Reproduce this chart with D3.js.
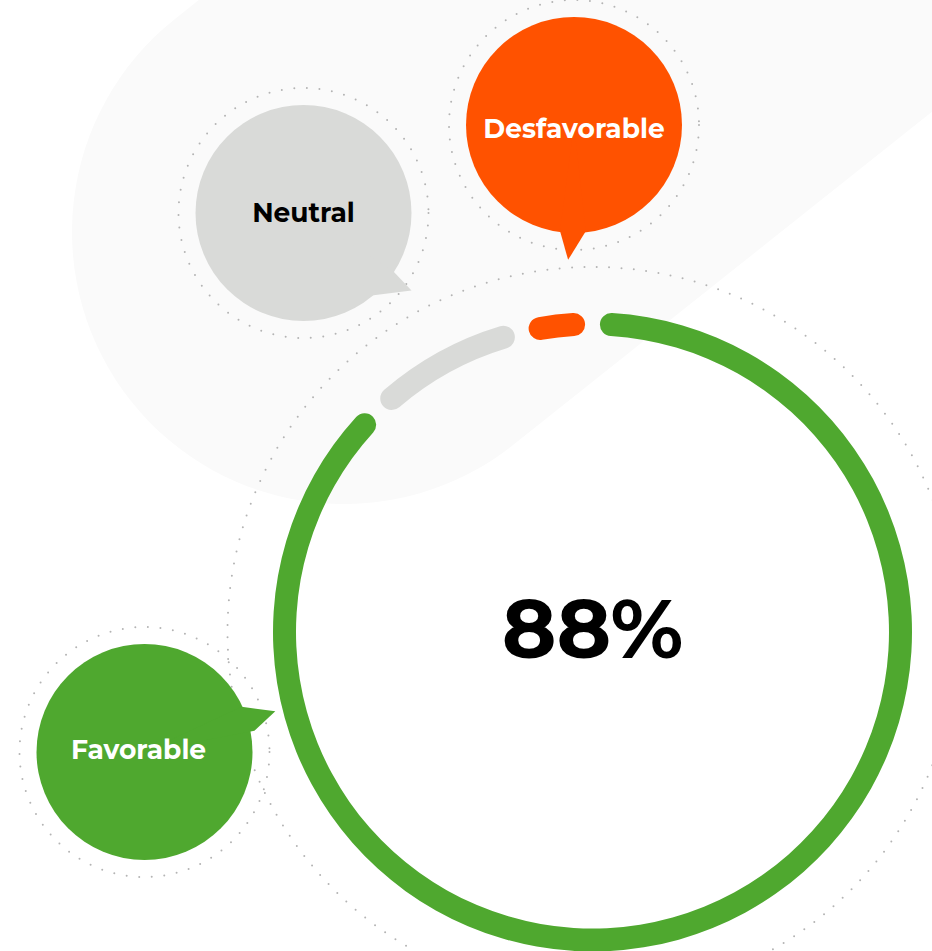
<!DOCTYPE html>
<meta charset="utf-8">
<style>
body { margin: 0; background: #fff; }
svg { display: block; }
text { font-family: "Montserrat", "Inter", sans-serif; font-weight: 700; }
.dots circle { fill: none; stroke: #b4b4b4; stroke-width: 2; stroke-linecap: round; }
</style>
<svg width="932" height="951"></svg>
<script src="https://d3js.org/d3.v7.min.js"></script>
<script>

// data
var categories = ["Favorable", "Neutral", "Desfavorable"];
var values = [89, 8, 3];
var colors = ["#4fa82f", "#d9dad8", "#ff5200"];
var labelColors = ["#ffffff", "#000000", "#ffffff"];
var centerLabel = "88%";

var svg = d3.select("svg"),
    width = +svg.attr("width"),
    height = +svg.attr("height");

// ring geometry
var cx = 592.5, cy = 632, rOuter = 319.5, rInner = 296.5;

// faint background band
svg.append("line")
    .attr("x1", 344).attr("y1", 232)
    .attr("x2", 344 + 0.783 * 1100).attr("y2", 232 - 0.623 * 1100)
    .attr("stroke", "#fafafa")
    .attr("stroke-width", 544)
    .attr("stroke-linecap", "round");

// bubble layout: centre, tail (angle in deg, distance) for base1, tip, base2, label offset
var bubbles = [
  {cx: 144.5, cy: 752, tail: [[-25, 107], [-17.3, 137], [-11, 112]], dx: -6, dy: 7},
  {cx: 303.5, cy: 213, tail: [[33, 107], [35.7, 133], [50.4, 107]], dx: 0, dy: 9},
  {cx: 574, cy: 125, tail: [[97.5, 107], [92.5, 135], [83.7, 107]], dx: 0, dy: 13}
];
var bubbleR = 108, dotR = 125;

var dots = svg.append("g").attr("class", "dots");
dots.append("circle").attr("cx", cx).attr("cy", cy).attr("r", 365)
    .attr("stroke-dasharray", "0 12.4");
bubbles.forEach(function(b) {
  dots.append("circle").attr("cx", b.cx).attr("cy", b.cy).attr("r", dotR)
      .attr("stroke-dasharray", "0 12.6");
});

// speech bubbles
var bub = svg.append("g").selectAll("g")
    .data(bubbles)
    .enter().append("g")
      .attr("transform", function(d) { return "translate(" + d.cx + "," + d.cy + ")"; });

bub.append("circle")
    .attr("r", bubbleR)
    .attr("fill", function(d, i) { return colors[i]; });

bub.append("path")
    .attr("fill", function(d, i) { return colors[i]; })
    .attr("d", function(d) {
      var pts = d.tail.map(function(p) {
        var a = p[0] * Math.PI / 180;
        return [p[1] * Math.cos(a), p[1] * Math.sin(a)];
      });
      return "M" + [[0, 0]].concat(pts).join("L") + "Z";
    });

bub.append("text")
    .attr("x", function(d) { return d.dx; })
    .attr("y", function(d) { return d.dy; })
    .attr("text-anchor", "middle")
    .attr("font-size", 26.5)
    .attr("fill", function(d, i) { return labelColors[i]; })
    .text(function(d, i) { return categories[i]; });

// ring
var pie = d3.pie().sort(null).padAngle(0.048);
var arc = d3.arc()
    .innerRadius(rInner)
    .outerRadius(rOuter)
    .padRadius((rInner + rOuter) / 2)
    .cornerRadius(11.5);

svg.append("g")
    .attr("transform", "translate(" + cx + "," + cy + ")")
  .selectAll("path")
  .data(pie(values))
  .enter().append("path")
    .attr("d", arc)
    .attr("fill", function(d, i) { return colors[i]; });

svg.append("text")
    .attr("x", cx)
    .attr("y", 658)
    .attr("text-anchor", "middle")
    .attr("font-size", 83)
    .attr("fill", "#000")
    .text(centerLabel);

</script>
